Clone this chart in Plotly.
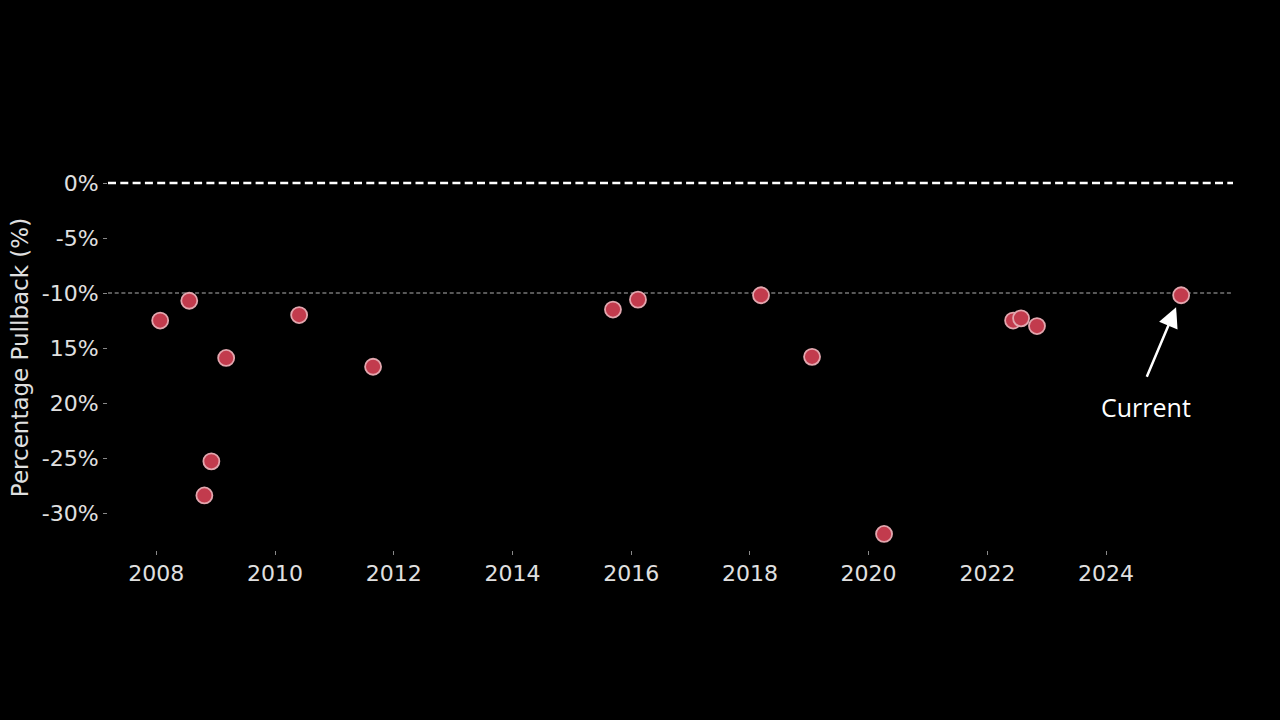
import plotly.graph_objects as go

dates = ["2008-01-25", "2008-07-22", "2008-10-23", "2008-12-05", "2009-03-06",
         "2010-05-29", "2011-08-27", "2015-09-11", "2016-02-12", "2018-03-10",
         "2019-01-18", "2020-04-05", "2022-06-08", "2022-07-27", "2022-11-02",
         "2025-04-07"]
pullback = [-12.5, -10.7, -28.4, -25.3, -15.9,
            -12.0, -16.7, -11.5, -10.6, -10.2,
            -15.8, -31.9, -12.5, -12.3, -13.0,
            -10.2]
xtick_vals = ["2008-01-01", "2010-01-01", "2012-01-01", "2014-01-01", "2016-01-01",
              "2018-01-01", "2020-01-01", "2022-01-01", "2024-01-01"]
xtick_text = ["2008", "2010", "2012", "2014", "2016", "2018", "2020", "2022", "2024"]
ytick_vals = [0, -5, -10, -15, -20, -25, -30]
ytick_text = ["0%", "-5%", "-10%", "15%", "20%", "-25%", "-30%"]
current_date = "2025-04-07"
current_value = -10.2

fig = go.Figure()
fig.add_trace(go.Scatter(
    x=dates, y=pullback, mode="markers",
    marker=dict(size=16, color="#c23b4d", line=dict(color="#e2a6ae", width=1.8)),
    showlegend=False,
))

fig.add_shape(type="line", xref="paper", x0=0, x1=1, yref="y", y0=0, y1=0,
              line=dict(color="white", width=2.4, dash="8px,4.3px"), layer="below")
fig.add_shape(type="line", xref="paper", x0=0, x1=1, yref="y", y0=-10, y1=-10,
              line=dict(color="#b0b0b0", width=1.1, dash="4px,2.7px"), layer="below")

fig.add_annotation(x=current_date, y=current_value, xref="x", yref="y",
                   text="", showarrow=True, arrowhead=2, arrowsize=1.6, arrowwidth=2.5,
                   arrowcolor="white", ax=-35, ay=83, standoff=13)
fig.add_annotation(x=current_date, y=current_value, xref="x", yref="y",
                   text="Current", showarrow=False, xshift=-35, yshift=-112,
                   font=dict(family="Open Sans", size=25, color="white"))

fig.update_layout(
    width=1280, height=720,
    paper_bgcolor="black", plot_bgcolor="black",
    margin=dict(l=108, r=47, t=165, b=170),
    xaxis=dict(type="date", range=["2007-03-10", "2026-02-20"],
               tickvals=xtick_vals, ticktext=xtick_text,
               showgrid=False, zeroline=False, showline=False,
               ticks="outside", ticklen=4, tickcolor="#888888",
               tickfont=dict(family="DejaVu Sans", size=22, color="#e0e0e0")),
    yaxis=dict(range=[-33.36, 1.64], tickvals=ytick_vals, ticktext=ytick_text,
               showgrid=False, zeroline=False, showline=False,
               ticks="outside", ticklen=4, tickcolor="#888888",
               tickfont=dict(family="DejaVu Sans", size=22, color="#e0e0e0"),
               title=dict(text="Percentage Pullback (%)", standoff=6,
                          font=dict(family="DejaVu Sans", size=23, color="#e0e0e0"))),
)

fig.write_html("out.html", config={"displayModeBar": False},
               post_script="document.body.style.margin='0';document.body.style.background='black';")
